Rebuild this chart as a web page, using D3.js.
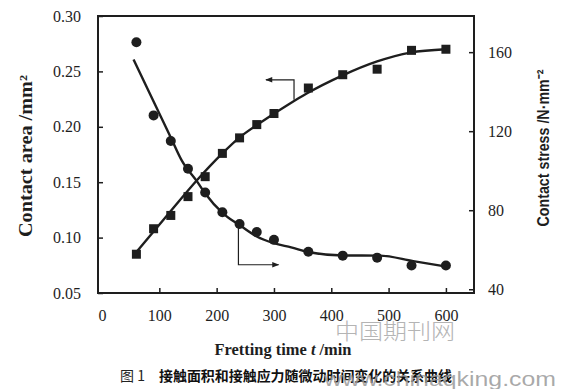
<!DOCTYPE html>
<html>
<head>
<meta charset="utf-8">
<script src="https://d3js.org/d3.v7.min.js"></script>
<style>
  body { margin: 0; background: #fff; }
  svg { display: block; }
</style>
</head>
<body>
<div id="chart"></div>
<script>
// fretting time (min) of the measured points
var times = [60, 90, 120, 150, 180, 210, 240, 270, 300, 360, 420, 480, 540, 600];
// squares, left axis (mm^2)
var contactArea = [0.085, 0.108, 0.120, 0.137, 0.155, 0.176, 0.190, 0.202, 0.212, 0.235, 0.247, 0.252, 0.269, 0.270];
// circles, right axis (N/mm^2)
var contactStress = [165, 128, 115, 101, 89, 79, 73, 69, 65, 59, 57, 56, 52, 52];

// fitted curves
var areaFitTimes = [60, 120, 166, 210, 239, 280, 328, 357, 418, 480, 538, 600];
var areaFit = [0.087, 0.124, 0.152, 0.176, 0.190, 0.205, 0.221, 0.230, 0.246, 0.259, 0.267, 0.270];
var stressFitTimes = [55, 90, 120, 139, 166, 180, 212, 241, 270, 300, 330, 362, 421, 485, 543, 600];
var stressFit = [156.3, 135, 116.8, 105.2, 94.5, 88.5, 78.2, 72.3, 66.7, 63.3, 61.2, 58.7, 57.1, 57, 54.2, 51.5];

var xTicks = [0, 100, 200, 300, 400, 500, 600];
var leftTicks = [0.05, 0.10, 0.15, 0.20, 0.25, 0.30];
var rightTicks = [40, 80, 120, 160];

var W = 562, H = 389;
var frame = { left: 98, right: 474, top: 16, bottom: 293 };
var ink = "#1e1e1e";
var serif = "'Liberation Serif', 'DejaVu Serif', serif";
var sans = "'Liberation Sans', Arial, sans-serif";

var x = d3.scaleLinear().domain([-7, 649]).range([frame.left, frame.right]);
var yL = d3.scaleLinear().domain([0.05, 0.30]).range([frame.bottom, frame.top]);
var yR = d3.scaleLinear().domain([38.1, 178.3]).range([frame.bottom, frame.top]);

var svg = d3.select("#chart").append("svg")
  .attr("width", W)
  .attr("height", H);

svg.append("rect").attr("width", W).attr("height", H).attr("fill", "#fff");

var defs = svg.append("defs");
defs.append("marker")
  .attr("id", "head")
  .attr("viewBox", "0 0 10 10")
  .attr("refX", 9).attr("refY", 5)
  .attr("markerWidth", 9).attr("markerHeight", 7)
  .attr("markerUnits", "userSpaceOnUse")
  .attr("orient", "auto")
  .append("path")
  .attr("d", "M0,1 L10,5 L0,9 Z")
  .attr("fill", ink);

// axes (inward ticks)
function styleAxis(g) {
  g.select(".domain").remove();
  g.selectAll(".tick line").attr("stroke", ink).attr("stroke-width", 1.5);
  g.selectAll(".tick text")
    .attr("fill", ink)
    .style("font-family", serif)
    .style("font-size", "16px");
}

svg.append("g")
  .attr("transform", "translate(0," + frame.bottom + ")")
  .call(d3.axisBottom(x).tickValues(xTicks).tickSizeInner(-5).tickSizeOuter(0).tickPadding(17).tickFormat(d3.format("d")))
  .call(styleAxis)
  .call(function(g) { g.selectAll(".tick").filter(function(d) { return d === 0; }).select("line").remove(); });

svg.append("g")
  .attr("transform", "translate(" + frame.left + ",0)")
  .call(d3.axisLeft(yL).tickValues(leftTicks).tickSizeInner(-5).tickSizeOuter(0).tickPadding(17).tickFormat(d3.format(".2f")))
  .call(styleAxis);

svg.append("g")
  .attr("transform", "translate(" + frame.right + ",0)")
  .call(d3.axisRight(yR).tickValues(rightTicks).tickSizeInner(-5).tickSizeOuter(0).tickPadding(14).tickFormat(d3.format("d")))
  .call(styleAxis);

// frame
svg.append("rect")
  .attr("x", frame.left).attr("y", frame.top)
  .attr("width", frame.right - frame.left)
  .attr("height", frame.bottom - frame.top)
  .attr("fill", "none")
  .attr("stroke", ink)
  .attr("stroke-width", 2);

// fitted curves
var areaLine = d3.line()
  .x(function(d, i) { return x(areaFitTimes[i]); })
  .y(function(d) { return yL(d); })
  .curve(d3.curveMonotoneX);

var stressLine = d3.line()
  .x(function(d, i) { return x(stressFitTimes[i]); })
  .y(function(d) { return yR(d); })
  .curve(d3.curveMonotoneX);

svg.append("path")
  .attr("d", areaLine(areaFit))
  .attr("fill", "none").attr("stroke", ink).attr("stroke-width", 2.4);

svg.append("path")
  .attr("d", stressLine(stressFit))
  .attr("fill", "none").attr("stroke", ink).attr("stroke-width", 2.4);

// markers
var sq = 9;
svg.append("g").selectAll("rect")
  .data(contactArea)
  .join("rect")
  .attr("x", function(d, i) { return x(times[i]) - sq / 2; })
  .attr("y", function(d) { return yL(d) - sq / 2; })
  .attr("width", sq).attr("height", sq)
  .attr("fill", ink);

svg.append("g").selectAll("circle")
  .data(contactStress)
  .join("circle")
  .attr("cx", function(d, i) { return x(times[i]); })
  .attr("cy", function(d) { return yR(d); })
  .attr("r", 5)
  .attr("fill", ink);

// pointer arrows to the axes
var areaArrow = [[335, 0.2245], [335, 0.2424], [286, 0.2424]];
svg.append("path")
  .attr("d", d3.line().x(function(d) { return x(d[0]); }).y(function(d) { return yL(d[1]); })(areaArrow))
  .attr("fill", "none").attr("stroke", ink).attr("stroke-width", 1.2)
  .attr("marker-end", "url(#head)");

var stressArrow = [[238, 71.1], [238, 52.4], [308, 52.4]];
svg.append("path")
  .attr("d", d3.line().x(function(d) { return x(d[0]); }).y(function(d) { return yR(d[1]); })(stressArrow))
  .attr("fill", "none").attr("stroke", ink).attr("stroke-width", 1.2)
  .attr("marker-end", "url(#head)");

// axis titles
svg.append("text")
  .attr("transform", "translate(32,156) rotate(-90)")
  .attr("text-anchor", "middle")
  .attr("textLength", 162).attr("lengthAdjust", "spacingAndGlyphs")
  .style("font-family", serif).style("font-weight", "bold").style("font-size", "18px")
  .attr("fill", ink)
  .text("Contact area /mm²");

svg.append("text")
  .attr("transform", "translate(549,148) rotate(-90)")
  .attr("text-anchor", "middle")
  .attr("textLength", 157).attr("lengthAdjust", "spacingAndGlyphs")
  .style("font-family", sans).style("font-weight", "bold").style("font-size", "17px")
  .attr("fill", ink)
  .text("Contact stress /N·mm⁻²");

var xTitle = svg.append("text")
  .attr("x", 283).attr("y", 355)
  .attr("text-anchor", "middle")
  .attr("textLength", 137).attr("lengthAdjust", "spacingAndGlyphs")
  .style("font-family", serif).style("font-weight", "bold").style("font-size", "17px")
  .attr("fill", ink);
xTitle.append("tspan").text("Fretting time ");
xTitle.append("tspan").style("font-style", "italic").text("t");
xTitle.append("tspan").text(" /min");

// caption
svg.append("text")
  .attr("x", 120).attr("y", 381)
  .style("font-family", "'Noto Sans CJK SC', sans-serif").style("font-size", "14px")
  .attr("fill", "#222")
  .text("图 1");
svg.append("text")
  .attr("x", 159).attr("y", 381)
  .attr("textLength", 293).attr("lengthAdjust", "spacingAndGlyphs")
  .style("font-family", "'Noto Sans CJK SC', sans-serif").style("font-weight", "bold").style("font-size", "14px")
  .attr("fill", "#111")
  .text("接触面积和接触应力随微动时间变化的关系曲线");

// watermark
svg.append("text")
  .attr("x", 335).attr("y", 339)
  .attr("textLength", 120).attr("lengthAdjust", "spacingAndGlyphs")
  .style("font-family", "'Noto Sans CJK SC', sans-serif").style("font-weight", "300").style("font-size", "22px")
  .attr("fill", "#b4b4b4")
  .text("中国期刊网");
svg.append("text")
  .attr("x", 324).attr("y", 386)
  .attr("textLength", 232).attr("lengthAdjust", "spacingAndGlyphs")
  .style("font-family", sans).style("font-size", "20px")
  .attr("fill", "#9a9a9a").attr("fill-opacity", 0.85)
  .text("www.chinaqking.com");
</script>
</body>
</html>
